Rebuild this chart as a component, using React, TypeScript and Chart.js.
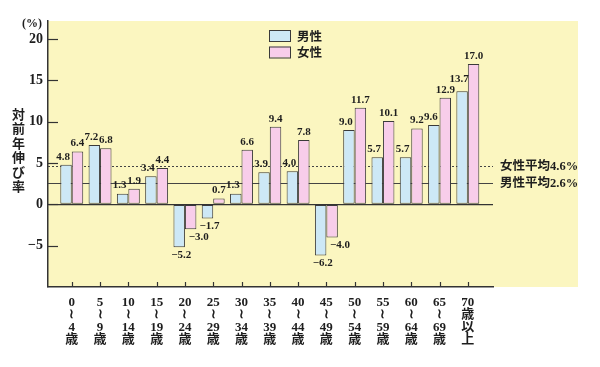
import React, { useEffect, useRef } from "react";
import { Chart, registerables } from "chart.js";

Chart.register(...registerables);

// ---- data ----
const ageLabels: string[][] = [
  ["0", "≀", "4", "歳"],
  ["5", "≀", "9", "歳"],
  ["10", "≀", "14", "歳"],
  ["15", "≀", "19", "歳"],
  ["20", "≀", "24", "歳"],
  ["25", "≀", "29", "歳"],
  ["30", "≀", "34", "歳"],
  ["35", "≀", "39", "歳"],
  ["40", "≀", "44", "歳"],
  ["45", "≀", "49", "歳"],
  ["50", "≀", "54", "歳"],
  ["55", "≀", "59", "歳"],
  ["60", "≀", "64", "歳"],
  ["65", "≀", "69", "歳"],
  ["70", "歳", "以", "上"],
];
const maleValues = [4.8, 7.2, 1.3, 3.4, -5.2, -1.7, 1.3, 3.9, 4.0, -6.2, 9.0, 5.7, 5.7, 9.6, 13.7];
const femaleValues = [6.4, 6.8, 1.9, 4.4, -3.0, 0.7, 6.6, 9.4, 7.8, -4.0, 11.7, 10.1, 9.2, 12.9, 17.0];
const yTickValues = [-5, 0, 5, 10, 15, 20];
const maleAverage = 2.6;
const femaleAverage = 4.6;
const seriesNames = ["男性", "女性"];
const yAxisTitle = "対前年伸び率";
const unitLabel = "(%)";

// ---- styles ----
const YELLOW = "#fbf6c0";
const BLUE = "#cde8f6";
const PINK = "#f8cdea";
const EDGE = "#3a3a3a";
const AXIS = "#333333";
const TEXT = "#1e1e1e";
const SERIF = "'Liberation Serif', 'Noto Sans CJK JP', serif";
const CJK = "'Noto Sans CJK JP', sans-serif";

const fmt = (v: number) => (v < 0 ? "−" : "") + Math.abs(v).toFixed(1);

const decor = {
  id: "decor",
  beforeDraw(chart: any) {
    const { ctx, chartArea: a } = chart;
    ctx.save();
    ctx.fillStyle = YELLOW;
    ctx.fillRect(a.left, a.top, a.right + 85 - a.left, a.bottom - a.top);
    ctx.restore();
  },
  beforeDatasetsDraw(chart: any) {
    const { ctx, chartArea: a, scales } = chart;
    const y = scales.y;
    ctx.save();
    ctx.strokeStyle = "#444";
    ctx.lineWidth = 1;
    ctx.setLineDash([2, 2]);
    const fy = Math.round(y.getPixelForValue(femaleAverage)) + 0.5;
    ctx.beginPath();
    ctx.moveTo(a.left, fy);
    ctx.lineTo(a.right, fy);
    ctx.stroke();
    ctx.setLineDash([]);
    const my = Math.round(y.getPixelForValue(maleAverage)) + 0.5;
    ctx.beginPath();
    ctx.moveTo(a.left, my);
    ctx.lineTo(a.right, my);
    ctx.stroke();
    ctx.restore();
  },
  afterDraw(chart: any) {
    const { ctx, chartArea: a, scales } = chart;
    const xs = scales.x;
    const ys = scales.y;
    ctx.save();
    // inward tick marks
    ctx.strokeStyle = AXIS;
    ctx.lineWidth = 1.2;
    yTickValues.forEach((v) => {
      const py = Math.round(ys.getPixelForValue(v)) + 0.5;
      ctx.beginPath();
      ctx.moveTo(a.left, py);
      ctx.lineTo(a.left + 10, py);
      ctx.stroke();
    });
    ageLabels.forEach((_, i) => {
      const px = Math.round(xs.getPixelForValue(i)) + 0.5;
      ctx.beginPath();
      ctx.moveTo(px, a.bottom);
      ctx.lineTo(px, a.bottom - 5);
      ctx.stroke();
    });

    // value labels
    ctx.font = `bold 11px ${SERIF}`;
    ctx.fillStyle = TEXT;
    ctx.textAlign = "center";
    ctx.textBaseline = "middle";
    const placed: { l: number; r: number; t: number; b: number }[] = [];
    const h = 10;
    ageLabels.forEach((_, i) => {
      [0, 1].forEach((d) => {
        const vals = d === 0 ? maleValues : femaleValues;
        const v = vals[i];
        const el: any = chart.getDatasetMeta(d).data[i];
        const txt = fmt(v);
        const w = ctx.measureText(txt).width;
        let cx = el.x;
        let cy: number;
        if (v >= 0) {
          cy = el.y - 8;
          if (d === 0) cx -= 3;
        } else {
          cy = el.y + 8;
          cx += d === 0 ? 2 : 8;
        }
        let moved = true;
        let guard = 0;
        while (moved && guard < 10) {
          moved = false;
          guard++;
          for (const p of placed) {
            const l = cx - w / 2, r = cx + w / 2, t = cy - h / 2, b = cy + h / 2;
            if (l < p.r && r > p.l && t < p.b && b > p.t) {
              if (v >= 0) cy = p.t - h / 2 - 1;
              else cy = p.b + h / 2 + 1;
              moved = true;
            }
          }
        }
        placed.push({ l: cx - w / 2, r: cx + w / 2, t: cy - h / 2, b: cy + h / 2 });
        ctx.fillText(txt, cx, cy);
      });
    });

    // average labels
    ctx.textAlign = "left";
    ctx.font = `bold 12.5px ${SERIF}`;
    ctx.fillText(`女性平均${femaleAverage.toFixed(1)}%`, a.right + 7, ys.getPixelForValue(femaleAverage));
    ctx.fillText(`男性平均${maleAverage.toFixed(1)}%`, a.right + 7, ys.getPixelForValue(maleAverage) + 1);

    // legend
    const colors = [BLUE, PINK];
    const boxTops = [30, 46.5];
    seriesNames.forEach((name, k) => {
      ctx.fillStyle = colors[k];
      ctx.fillRect(269, boxTops[k], 21, 11);
      ctx.strokeStyle = EDGE;
      ctx.lineWidth = 1;
      ctx.strokeRect(269.5, boxTops[k] + 0.5, 21, 11);
      ctx.fillStyle = TEXT;
      ctx.font = `bold 12.5px ${CJK}`;
      ctx.fillText(name, 297, boxTops[k] + 6);
    });

    // y title (vertical, stacked)
    ctx.textAlign = "center";
    ctx.font = `bold 13px ${CJK}`;
    Array.from(yAxisTitle).forEach((ch, k) => {
      ctx.fillText(ch, 18.5, 114 + k * 14.4);
    });
    ctx.font = `bold 12px ${SERIF}`;
    ctx.fillText(unitLabel, 32, 24);
    ctx.restore();
  },
};

export default function App() {
  const ref = useRef<HTMLCanvasElement | null>(null);
  useEffect(() => {
    if (!ref.current) return;
    const chart = new Chart(ref.current, {
      type: "bar",
      data: {
        datasets: [
          {
            label: seriesNames[0],
            data: maleValues.map((y, x) => ({ x, y })),
            backgroundColor: BLUE,
            borderColor: EDGE,
            borderWidth: 1,
            borderSkipped: false,
            categoryPercentage: 0.81,
            barPercentage: 1,
          },
          {
            label: seriesNames[1],
            data: femaleValues.map((y, x) => ({ x, y })),
            backgroundColor: PINK,
            borderColor: EDGE,
            borderWidth: 1,
            borderSkipped: false,
            categoryPercentage: 0.81,
            barPercentage: 1,
          },
        ],
      } as any,
      options: {
        animation: false,
        responsive: true,
        maintainAspectRatio: false,
        layout: { padding: { top: 21, right: 107, left: 0, bottom: 0 } },
        plugins: { legend: { display: false }, tooltip: { enabled: false } },
        scales: {
          x: {
            type: "linear",
            offset: false,
            min: -0.84,
            max: 14.89,
            afterBuildTicks: (s: any) => {
              s.ticks = ageLabels.map((_, i) => ({ value: i }));
            },
            afterFit: (s: any) => {
              s.height = 80;
            },
            grid: { offset: false, drawOnChartArea: false, drawTicks: false },
            border: { display: true, color: AXIS, width: 1.5 },
            ticks: {
              autoSkip: false,
              maxRotation: 0,
              padding: 9,
              color: TEXT,
              font: { family: SERIF, size: 13, weight: "bold", lineHeight: 0.97 },
              callback: (v: any) => ageLabels[Number(v)] ?? "",
            },
          },
          y: {
            min: -10,
            max: 22.2,
            afterBuildTicks: (s: any) => {
              s.ticks = yTickValues.map((v) => ({ value: v }));
            },
            afterFit: (s: any) => {
              s.width = 48;
            },
            grid: {
              drawTicks: false,
              lineWidth: 1.2,
              color: (c: any) => (c.tick && c.tick.value === 0 ? AXIS : "rgba(0,0,0,0)"),
            },
            border: { display: true, color: AXIS, width: 1.5 },
            ticks: {
              padding: 5,
              color: TEXT,
              font: { family: SERIF, size: 14, weight: "bold" },
              callback: (v: any) => (Number(v) < 0 ? "−" : "") + Math.abs(Number(v)),
            },
          },
        },
      } as any,
      plugins: [decor],
    });
    return () => chart.destroy();
  }, []);
  return (
    <div style={{ position: "fixed", left: 0, top: 0, width: 600, height: 367, background: "#fff" }}>
      <canvas ref={ref} />
    </div>
  );
}
